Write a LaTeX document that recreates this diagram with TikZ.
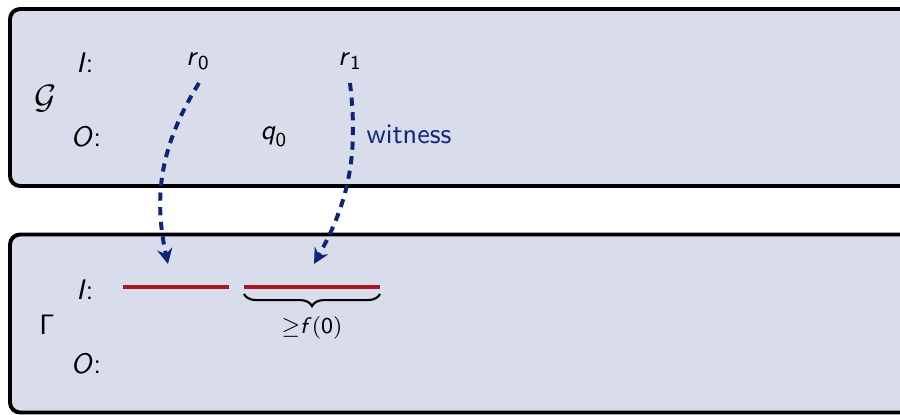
\documentclass[tikz,border=0pt]{standalone}
\usetikzlibrary{arrows.meta,decorations.pathreplacing}
\definecolor{boxfill}{RGB}{217,220,234}
\definecolor{navyarr}{RGB}{14,36,122}
\definecolor{darkred}{RGB}{160,28,34}
\newcommand\mi[1]{\textsf{\textit{#1}}}
\begin{document}
\begin{tikzpicture}[x=0.3546pt,y=-0.3546pt,
  panel/.style={draw=black,line width=1.4pt,fill=boxfill,rounded corners=3.6pt},
  lbl/.style={inner sep=0pt,font=\sffamily},
  arr/.style={navyarr,line width=1.4pt,dash pattern=on 2.9pt off 2.3pt,
    -{Stealth[length=5.4pt,width=5.4pt,inset=1.8pt]}},
  interval/.style={darkred,line width=1.1pt},
  bracestyle/.style={decorate,decoration={brace,mirror,amplitude=4.3pt},line width=0.75pt}]
\useasboundingbox (0,0) rectangle (900,415);
\clip (0,0) rectangle (900,415);
% panels
\draw[panel] (10,9) rectangle (940,186);
\draw[panel] (10,234.5) rectangle (940,412.5);
% top panel labels
\node[lbl] (GI) at (85,63) {\mi{I}:};
\node[lbl] (GG) at (46,99) {\large$\mathcal{G}$};
\node[lbl] (GO) at (86,137) {\mi{O}:};
\node[lbl] (r0) at (198,61) {$\mi{r}_{\mathsf{0}}$};
\node[lbl] (q0) at (274,137) {$\mi{q}_{\mathsf{0}}$};
\node[lbl] (r1) at (350,61) {$\mi{r}_{\mathsf{1}}$};
\node[lbl,text=navyarr] (wit) at (409,134) {witness};
% bottom panel labels
\node[lbl] (CI) at (85,290) {\mi{I}:};
\node[lbl] (CG) at (47,325) {$\mathsf{\Gamma}$};
\node[lbl] (CO) at (86,364) {\mi{O}:};
% intervals
\coordinate (i1a) at (123,287);
\coordinate (i1b) at (229,287);
\coordinate (i2a) at (244,287);
\coordinate (i2b) at (380,287);
\draw[interval] (i1a) -- (i1b);
\draw[interval] (i2a) -- (i2b);
\coordinate (ba) at (244,294);
\coordinate (bb) at (380,294);
\draw[bracestyle] (ba) -- (bb);
\node[lbl,font=\sffamily\footnotesize] (bound) at (312,328) {${\geq}\mi{f}(\mathsf{0})$};
% arrows
\coordinate (a1s) at (199,83);
\coordinate (a1e) at (168,264);
\coordinate (a2s) at (350,83);
\coordinate (a2e) at (314,264);
\draw[arr] (a1s) to[bend right=22] (a1e);
\draw[arr] (a2s) to[bend left=18] (a2e);
\end{tikzpicture}
\end{document}
